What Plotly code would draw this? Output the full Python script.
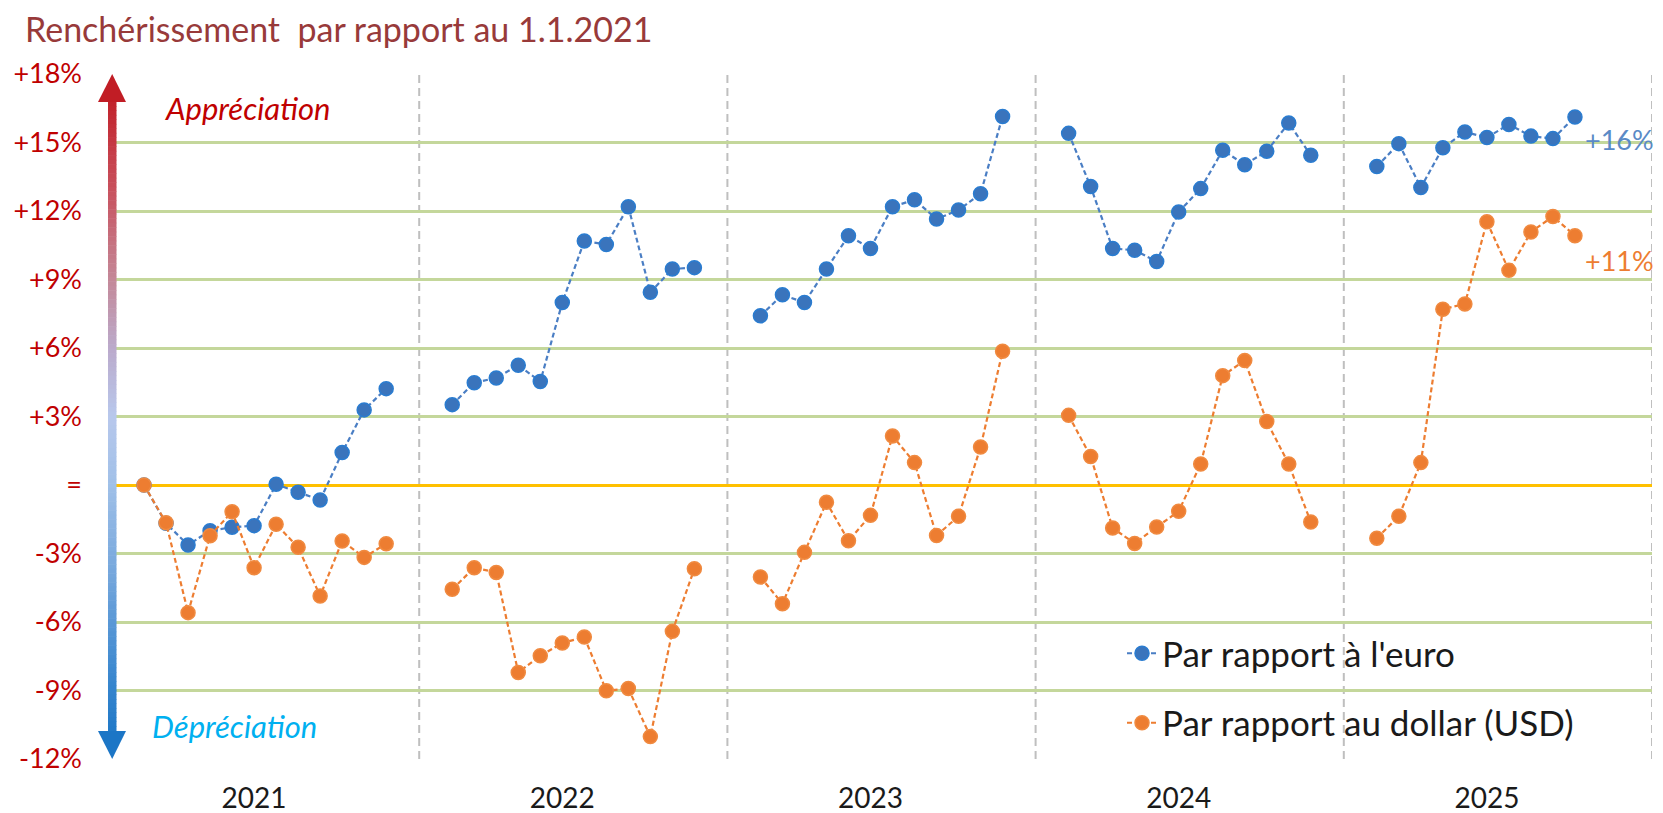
import plotly.graph_objects as go

# ---------------- data ----------------
years = ["2021", "2022", "2023", "2024", "2025"]
months = list(range(1, 13))

euro_2021 = [0.0, -1.68, -2.63, -2.00, -1.85, -1.78, 0.03, -0.32, -0.66, 1.42, 3.29, 4.22]
euro_2022 = [3.52, 4.48, 4.69, 5.24, 4.53, 7.99, 10.69, 10.53, 12.19, 8.44, 9.46, 9.52]
euro_2023 = [7.41, 8.33, 7.99, 9.46, 10.92, 10.36, 12.19, 12.49, 11.65, 12.04, 12.76, 16.14]
euro_2024 = [15.40, 13.07, 10.36, 10.28, 9.79, 11.96, 12.98, 14.66, 14.03, 14.62, 15.85, 14.44]
euro_2025 = [13.95, 14.95, 13.03, 14.77, 15.46, 15.22, 15.79, 15.28, 15.17, 16.12]

usd_2021 = [0.0, -1.65, -5.59, -2.22, -1.17, -3.62, -1.72, -2.73, -4.86, -2.45, -3.17, -2.57]
usd_2022 = [-4.57, -3.62, -3.83, -8.21, -7.48, -6.92, -6.66, -9.01, -8.91, -11.02, -6.41, -3.67]
usd_2023 = [-4.03, -5.20, -2.95, -0.76, -2.44, -1.33, 2.15, 0.98, -2.21, -1.37, 1.66, 5.86]
usd_2024 = [3.05, 1.25, -1.88, -2.56, -1.84, -1.15, 0.92, 4.79, 5.45, 2.78, 0.92, -1.62]
usd_2025 = [-2.33, -1.37, 0.98, 7.70, 7.93, 11.53, 9.40, 11.08, 11.76, 10.92]

euro_by_year = [euro_2021, euro_2022, euro_2023, euro_2024, euro_2025]
usd_by_year = [usd_2021, usd_2022, usd_2023, usd_2024, usd_2025]

y_tickvals = [-12, -9, -6, -3, 0, 3, 6, 9, 12, 15, 18]
y_ticktext = ["-12%", "-9%", "-6%", "-3%", "=", "+3%", "+6%", "+9%", "+12%", "+15%", "+18%"]

title_text = "Renchérissement  par rapport au 1.1.2021"
name_euro = "Par rapport à l'euro"
name_usd = "Par rapport au dollar (USD)"

SLOTS = 14  # month slots per year (12 months + 2 spacing slots)


def build_xy(by_year):
    xs, ys = [], []
    for yi, vals in enumerate(by_year):
        for m, v in zip(months, vals):
            xs.append(yi * SLOTS + m + 0.5)
            ys.append(v)
        xs.append(None)
        ys.append(None)
    return xs, ys


ex, ey = build_xy(euro_by_year)
ux, uy = build_xy(usd_by_year)

# ---------------- layout geometry ----------------
# the page body adds an 8px offset, so the figure is sized/placed to compensate
OFF = 8
VW, VH = 1663, 813
W, H = VW - OFF, VH - OFF
PL, PR, PT, PB = 111, 1652, 74, 759      # plot-area edges in window pixels
ML, MT = PL - OFF, PT - OFF
MR, MB = W - (PR - OFF), H - (PB - OFF)
PW, PH = W - ML - MR, H - MT - MB
YMIN, YMAX = -12, 18
XMAX = SLOTS * len(years)


def px_x(px):
    return (px - OFF - ML) / PW


def px_y(py):
    return (H - MB - (py - OFF)) / PH


def dy(v):
    return (v - YMIN) / (YMAX - YMIN)


FONT = "Lato"
BLUE = "#3A74BC"
BLUE_EDGE = "#2A7CD0"
BLUE_LINE = "#4A7EC4"
ORANGE = "#ED7D31"

fig = go.Figure()

fig.add_trace(go.Scatter(
    x=ex, y=ey, mode="lines+markers", name=name_euro, legendgroup="a",
    line=dict(color=BLUE_LINE, width=2.2, dash="5px,3px"),
    marker=dict(size=14, color=BLUE, line=dict(color=BLUE_EDGE, width=1.5)),
    connectgaps=False,
))
fig.add_trace(go.Scatter(
    x=ux, y=uy, mode="lines+markers", name=name_usd, legendgroup="b",
    line=dict(color=ORANGE, width=2.2, dash="5px,3px"),
    marker=dict(size=14, color=ORANGE, line=dict(color="#F08A40", width=1.5)),
    connectgaps=False,
))

shapes = []
# vertical dashed year separators
for k in range(1, len(years) + 1):
    shapes.append(dict(type="line", xref="x", yref="paper", x0=k * SLOTS, x1=k * SLOTS,
                       y0=0, y1=1, line=dict(color="#BFBFBF", width=2, dash="8px,5px"),
                       layer="below"))

# gradient double arrow on the left
stops = [(18, (192, 20, 28)), (13, (200, 80, 92)), (9, (196, 136, 152)),
         (6, (187, 170, 203)), (3, (184, 200, 236)), (0, (160, 192, 232)),
         (-4, (116, 166, 220)), (-8, (63, 138, 208)), (-12, (20, 114, 196))]


def grad(v):
    for (v1, c1), (v2, c2) in zip(stops[:-1], stops[1:]):
        if v2 <= v <= v1:
            t = (v1 - v) / (v1 - v2)
            c = [round(a + (b - a) * t) for a, b in zip(c1, c2)]
            return "rgb(%d,%d,%d)" % tuple(c)
    return "rgb(20,114,196)"


head_h = 28 / (PH / (YMAX - YMIN))
top_base = YMAX - head_h
bot_base = YMIN + head_h
n = 140
x_l, x_r = px_x(108), px_x(116.5)
for i in range(n):
    v0 = top_base - (top_base - bot_base) * i / n
    v1 = top_base - (top_base - bot_base) * (i + 1) / n
    shapes.append(dict(type="rect", xref="paper", yref="paper", x0=x_l, x1=x_r,
                       y0=dy(v1), y1=dy(v0) + 0.0008, fillcolor=grad((v0 + v1) / 2),
                       line=dict(width=0), layer="above"))
hx0, hx1, hxc = px_x(98), px_x(126), px_x(112.2)
shapes.append(dict(type="path", xref="paper", yref="paper",
                   path=f"M {hx0},{dy(top_base)} L {hx1},{dy(top_base)} L {hxc},{dy(YMAX)} Z",
                   fillcolor=grad(top_base + 0.5), line=dict(width=0), layer="above"))
shapes.append(dict(type="path", xref="paper", yref="paper",
                   path=f"M {hx0},{dy(bot_base)} L {hx1},{dy(bot_base)} L {hxc},{dy(YMIN)} Z",
                   fillcolor=grad(bot_base - 0.5), line=dict(width=0), layer="above"))

annotations = [
    dict(text="<i>Appréciation</i>", xref="paper", yref="paper", x=px_x(163), y=px_y(108),
         xanchor="left", yanchor="middle", showarrow=False,
         font=dict(family=FONT, size=31, color="#C00000")),
    dict(text="<i>Dépréciation</i>", xref="paper", yref="paper", x=px_x(150), y=px_y(726),
         xanchor="left", yanchor="middle", showarrow=False,
         font=dict(family=FONT, size=31, color="#00B0F0")),
    dict(text="%+d%%" % round(euro_2025[-1]), xref="x", yref="paper", x=XMAX, y=px_y(139),
         xanchor="right", yanchor="middle", showarrow=False, xshift=4,
         font=dict(family=FONT, size=27, color="#5A8AC6")),
    dict(text="%+d%%" % round(usd_2025[-1]), xref="x", yref="paper", x=XMAX, y=px_y(260),
         xanchor="right", yanchor="middle", showarrow=False, xshift=4,
         font=dict(family=FONT, size=27, color=ORANGE)),
]

fig.update_layout(
    width=W, height=H,
    margin=dict(l=ML, r=MR, t=MT, b=MB, autoexpand=False),
    paper_bgcolor="white", plot_bgcolor="white",
    title=dict(text=title_text, xref="container", yref="container",
               x=(25 - OFF) / W, y=1 - 22.5 / H, xanchor="left", yanchor="middle",
               font=dict(family=FONT, size=34, color="#983A3A")),
    showlegend=True,
    legend=dict(x=px_x(1122), y=px_y(624), xanchor="left", yanchor="top",
                bgcolor="rgba(0,0,0,0)", font=dict(family=FONT, size=35, color="#1A1A1A"),
                traceorder="grouped", tracegroupgap=21),
    shapes=shapes,
    annotations=annotations,
    xaxis=dict(range=[0, XMAX], showgrid=False, zeroline=False, showline=False,
               automargin=False,
               tickmode="array", tickvals=[yi * SLOTS + 6.5 for yi in range(len(years))],
               ticktext=years, ticks="", ticklabelstandoff=20,
               tickfont=dict(family=FONT, size=28, color="#1A1A1A")),
    yaxis=dict(range=[YMIN, YMAX], tickmode="array", tickvals=y_tickvals, ticktext=y_ticktext,
               automargin=False,
               showgrid=True, gridcolor="#C4D79B", gridwidth=3,
               zeroline=True, zerolinecolor="#FFC000", zerolinewidth=3,
               showline=False, ticks="", ticklabelstandoff=28,
               tickfont=dict(family=FONT, size=27, color="#C00000")),
    hovermode=False,
)

fig.write_html("out.html")
